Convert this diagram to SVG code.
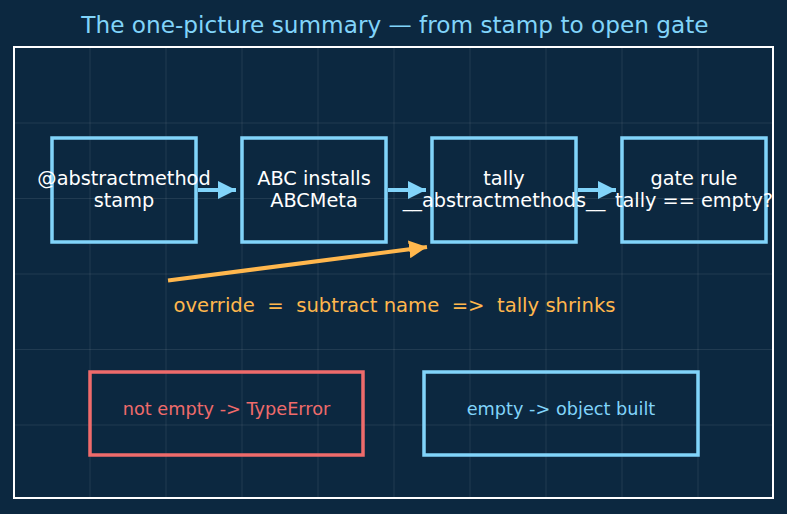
<svg xmlns="http://www.w3.org/2000/svg" width="787" height="514" viewBox="0 0 787 514">
<defs>
<style>
text{font-family:"DejaVu Sans","Liberation Sans",sans-serif;text-anchor:middle}
.box{fill:none;stroke:#81d4fa;stroke-width:3.5}
.lbl{fill:#ffffff;font-size:19.3px}
.grid line{stroke:#ffffff;stroke-opacity:0.09;stroke-width:1}
.flow{stroke:#81d4fa;stroke-width:4;fill:none}
</style>
<marker id="ab" viewBox="0 0 10 10" refX="10" refY="5" markerWidth="4.5" markerHeight="4.5" markerUnits="strokeWidth" orient="auto">
<path d="M0,0 L10,5 L0,10 Z" fill="#81d4fa"/>
</marker>
<marker id="ao" viewBox="0 0 10 10" refX="10" refY="5" markerWidth="4.5" markerHeight="4.5" markerUnits="strokeWidth" orient="auto">
<path d="M0,0 L10,5 L0,10 Z" fill="#ffb74d"/>
</marker>
</defs>
<rect width="787" height="514" fill="#0c2840"/>
<g class="grid">
<line x1="90" y1="47" x2="90" y2="498"/>
<line x1="166" y1="47" x2="166" y2="498"/>
<line x1="242" y1="47" x2="242" y2="498"/>
<line x1="318" y1="47" x2="318" y2="498"/>
<line x1="394" y1="47" x2="394" y2="498"/>
<line x1="470" y1="47" x2="470" y2="498"/>
<line x1="546" y1="47" x2="546" y2="498"/>
<line x1="622" y1="47" x2="622" y2="498"/>
<line x1="698" y1="47" x2="698" y2="498"/>
<line x1="14" y1="123" x2="773" y2="123"/>
<line x1="14" y1="198.5" x2="773" y2="198.5"/>
<line x1="14" y1="274" x2="773" y2="274"/>
<line x1="14" y1="349.5" x2="773" y2="349.5"/>
<line x1="14" y1="425" x2="773" y2="425"/>
</g>
<rect x="14" y="47" width="759" height="451" fill="none" stroke="#ffffff" stroke-width="2"/>
<text x="395" y="32.5" font-size="23.2" fill="#81d4fa">The one-picture summary — from stamp to open gate</text>
<g id="connectors">
<line class="flow" x1="198" y1="190" x2="236" y2="190" marker-end="url(#ab)"/>
<line class="flow" x1="388" y1="190" x2="426" y2="190" marker-end="url(#ab)"/>
<line class="flow" x1="578" y1="190" x2="616" y2="190" marker-end="url(#ab)"/>
<line x1="168" y1="280.5" x2="427" y2="247" stroke="#ffb74d" stroke-width="4" marker-end="url(#ao)"/>
</g>
<g id="stamp">
<rect class="box" x="52" y="138" width="144" height="104"/>
<text class="lbl" x="124" y="185">@abstractmethod</text>
<text class="lbl" x="124" y="207">stamp</text>
</g>
<g id="abc">
<rect class="box" x="242" y="138" width="144" height="104"/>
<text class="lbl" x="314" y="185">ABC installs</text>
<text class="lbl" x="314" y="207">ABCMeta</text>
</g>
<g id="tally">
<rect class="box" x="432" y="138" width="144" height="104"/>
<text class="lbl" x="504" y="185">tally</text>
<text class="lbl" x="504" y="207">__abstractmethods__</text>
</g>
<g id="gate">
<rect class="box" x="622" y="138" width="144" height="104"/>
<text class="lbl" x="694" y="185">gate rule</text>
<text class="lbl" x="694" y="207">tally == empty?</text>
</g>
<g id="override">
<text x="394.5" y="312" font-size="19.6" fill="#ffb74d" xml:space="preserve">override  =  subtract name  =&gt;  tally shrinks</text>
</g>
<g id="typeerror">
<rect x="90" y="372" width="273" height="83" fill="none" stroke="#ef6b6b" stroke-width="3.5"/>
<text x="226.5" y="414.5" font-size="17.7" fill="#ef6b6b">not empty -&gt; TypeError</text>
</g>
<g id="built">
<rect x="424" y="372" width="274" height="83" fill="none" stroke="#81d4fa" stroke-width="3.5"/>
<text x="561" y="414.5" font-size="17.7" fill="#81d4fa">empty -&gt; object built</text>
</g>
</svg>
